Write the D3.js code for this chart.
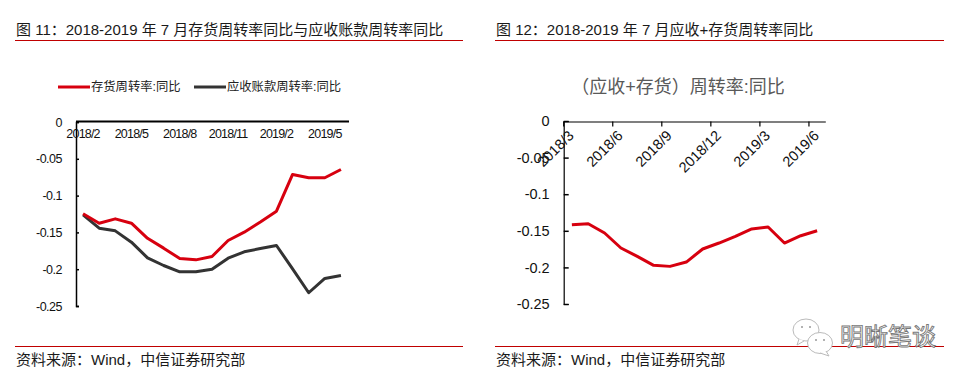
<!DOCTYPE html>
<html>
<head>
<meta charset="utf-8">
<script src="https://cdn.jsdelivr.net/npm/d3@7/dist/d3.min.js"></script>
<style>
  html, body { margin: 0; padding: 0; background: #fff; }
  text { font-family: "Liberation Sans", "Noto Sans CJK SC", sans-serif; }
</style>
</head>
<body>
<div id="chart"></div>
<script>
// figure 11
var months1 = ['2018/2','2018/3','2018/4','2018/5','2018/6','2018/7','2018/8','2018/9','2018/10','2018/11','2018/12','2019/1','2019/2','2019/3','2019/4','2019/5','2019/6']
var inventory = [-0.1247,-0.1375,-0.1316,-0.1375,-0.158,-0.1714,-0.1855,-0.1873,-0.1827,-0.161,-0.1497,-0.136,-0.1212,-0.0713,-0.0758,-0.0758,-0.0645]
var receivable = [-0.1261,-0.1443,-0.1479,-0.1633,-0.1846,-0.195,-0.2036,-0.2036,-0.2,-0.185,-0.1764,-0.1719,-0.1678,-0.1995,-0.232,-0.2126,-0.2086]
var labels1 = ['2018/2','2018/5','2018/8','2018/11','2019/2','2019/5']

// figure 12
var months2 = months1.slice(1)
var combined = [-0.1417,-0.1403,-0.153,-0.1735,-0.185,-0.1972,-0.1986,-0.1927,-0.1749,-0.1667,-0.1576,-0.1475,-0.1448,-0.1667,-0.1567,-0.1499]
var labels2 = ['2018/3','2018/6','2018/9','2018/12','2019/3','2019/6']

var yTicks = [0,-0.05,-0.1,-0.15,-0.2,-0.25]
var yLabels = ['0','-0.05','-0.1','-0.15','-0.2','-0.25']

var RED = '#d7000f', DARK = '#333333', RULE = '#c00000'

var svg = d3.select('#chart').append('svg')
  .attr('width', 966).attr('height', 379)
  .style('display', 'block')

function heading (x0, x1, title) {
  svg.append('text').attr('x', x0 + 1).attr('y', 35)
    .style('font-size', '15px').attr('fill', '#1a1a1a').text(title)
  svg.append('line').attr('x1', x0).attr('x2', x1).attr('y1', 40.5).attr('y2', 40.5)
    .attr('stroke', RULE).attr('stroke-width', 1)
  svg.append('line').attr('x1', x0).attr('x2', x1).attr('y1', 346.5).attr('y2', 346.5)
    .attr('stroke', RULE).attr('stroke-width', 1)
  svg.append('text').attr('x', x0 + 1).attr('y', 365)
    .style('font-size', '15px').attr('fill', '#1a1a1a').text('资料来源：Wind，中信证券研究部')
}

heading(15, 463, '图 11：2018-2019 年 7 月存货周转率同比与应收账款周转率同比')
heading(495, 944, '图 12：2018-2019 年 7 月应收+存货周转率同比')

function yAxis (g, y, fontSize, tickLen, spacing, width) {
  g.call(d3.axisRight(y).tickValues(yTicks).tickSize(tickLen)
      .tickFormat(function (d, i) { return yLabels[i] }))
  g.select('.domain').attr('stroke', '#000').attr('stroke-width', width)
  g.selectAll('.tick line').attr('stroke', '#000').attr('stroke-width', 1.5)
  g.selectAll('.tick text')
    .attr('x', -14).attr('text-anchor', 'end').attr('fill', '#111')
    .style('font-size', fontSize + 'px').style('letter-spacing', spacing)
    .style('font-family', '"Liberation Sans", sans-serif')
}

// ---- left chart
var left = svg.append('g')
var x1 = d3.scaleBand().domain(months1).range([75, 349])
var y1 = d3.scaleLinear().domain([-0.25, 0]).range([306, 122])

left.append('g').attr('transform', 'translate(76,0)').call(yAxis, y1, 12.5, 3, '-0.5px', 1.5)

var xg1 = left.append('g').attr('transform', 'translate(0,121.5)')
  .call(d3.axisBottom(x1).tickValues(labels1).tickSize(0).tickPadding(8))
xg1.select('.domain').attr('d', 'M76,0H349').attr('stroke', '#000').attr('stroke-width', 2.2)
xg1.selectAll('text').attr('fill', '#111')
  .style('font-size', '12.5px').style('letter-spacing', '-0.8px')
  .style('font-family', '"Liberation Sans", sans-serif')

function drawLine (g, x, y, months, values, color) {
  var line = d3.line()
    .x(function (d, i) { return x(months[i]) + x.bandwidth() / 2 })
    .y(function (d) { return y(d) })
  g.append('path').datum(values).attr('d', line)
    .attr('fill', 'none').attr('stroke', color)
    .attr('stroke-width', 3).attr('stroke-linejoin', 'round')
}

drawLine(left, x1, y1, months1, receivable, DARK)
drawLine(left, x1, y1, months1, inventory, RED)

var legend = [
  { name: '存货周转率:同比', color: RED, x: 58 },
  { name: '应收账款周转率:同比', color: DARK, x: 194 }
]
legend.forEach(function (d) {
  left.append('line').attr('x1', d.x).attr('x2', d.x + 32).attr('y1', 87).attr('y2', 87)
    .attr('stroke', d.color).attr('stroke-width', 3)
  left.append('text').attr('x', d.x + 33).attr('y', 91)
    .style('font-size', '12.3px').attr('fill', '#222').text(d.name)
})

// ---- right chart
var right = svg.append('g')
var x2 = d3.scaleBand().domain(months2).range([563.7, 825.3])
var y2 = d3.scaleLinear().domain([-0.25, 0]).range([304, 121])

right.append('g').attr('transform', 'translate(563.7,0)').call(yAxis, y2, 14.5, 5, '0', 1.2)

var xg2 = right.append('g').attr('transform', 'translate(0,121.5)')
  .call(d3.axisBottom(x2).tickValues(labels2).tickSize(0))
xg2.select('.domain').attr('stroke', '#000').attr('stroke-width', 1.2)
// ticks sit on the band edge, not the centre
xg2.selectAll('.tick').attr('transform', function (d) { return 'translate(' + x2(d) + ',0)' })
xg2.selectAll('.tick line').attr('y2', 5).attr('stroke', '#000').attr('stroke-width', 1.2)
xg2.selectAll('.tick text')
  .attr('text-anchor', 'end').attr('fill', '#111')
  .attr('x', 0).attr('y', 0).attr('dy', 0)
  .attr('transform', 'translate(11,15) rotate(-45)')
  .style('font-size', '14.5px')
  .style('font-family', '"Liberation Sans", sans-serif')

drawLine(right, x2, y2, months2, combined, RED)

right.append('text').attr('x', 678).attr('y', 93).attr('text-anchor', 'middle')
  .style('font-size', '18px').attr('fill', '#595959').text('（应收+存货）周转率:同比')

// ---- watermark
var mark = svg.append('g')
var bubbles = [[806, 330, 13, 11], [820, 343, 12.5, 10.5]]
var tails = [[799, 339, 797, 345, 804, 341], [826, 351, 829, 356, 820, 353]]
bubbles.forEach(function (b, i) {
  var t = tails[i]
  mark.append('ellipse').attr('cx', b[0]).attr('cy', b[1]).attr('rx', b[2]).attr('ry', b[3])
    .attr('fill', '#fff').attr('stroke', '#bbb').attr('stroke-width', 1)
  mark.append('path').attr('d', 'M' + t[0] + ',' + t[1] + 'L' + t[2] + ',' + t[3] + 'L' + t[4] + ',' + t[5])
    .attr('fill', '#fff').attr('stroke', '#bbb').attr('stroke-width', 1)
  mark.append('circle').attr('cx', b[0] - 4).attr('cy', b[1] - 3).attr('r', 1).attr('fill', '#999')
  mark.append('circle').attr('cx', b[0] + 4).attr('cy', b[1] - 3).attr('r', 1).attr('fill', '#999')
})
mark.append('text').attr('x', 840).attr('y', 345)
  .style('font-size', '24px').attr('fill', '#fff')
  .attr('stroke', '#777').attr('stroke-width', 0.9)
  .text('明晰笔谈')
</script>
</body>
</html>
